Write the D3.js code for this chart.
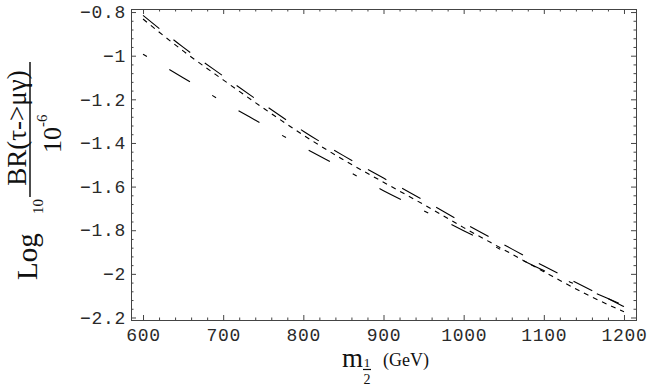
<!DOCTYPE html>
<html>
<head lang="en">
	<meta charset="UTF-8">
	<title></title>
	<script src="https://d3js.org/d3.v7.min.js"></script>
	<style>
		body { margin: 0; background: #fff; }
		.ticklbl text { font-family: "Liberation Mono", "DejaVu Sans Mono", monospace; font-size: 18px; letter-spacing: 0.7px; }
		.serif { font-family: "Liberation Serif", "DejaVu Serif", serif; fill: #111; }
	</style>
</head>
<body>

<script>

	// m_1/2 in GeV
	var masses = [600, 650, 700, 750, 800, 850, 900, 950, 1000, 1050, 1100, 1150, 1200];

	// log10( BR(tau->mu gamma) / 1e-6 )
	var brDashed =   [-0.815, -0.961, -1.093, -1.222, -1.346, -1.458, -1.561, -1.662, -1.767, -1.866, -1.964, -2.058, -2.150];
	var brDotted =   [-0.832, -0.978, -1.111, -1.240, -1.364, -1.477, -1.580, -1.682, -1.788, -1.889, -1.990, -2.088, -2.174];
	var brLongDash = [-0.993, -1.101, -1.212, -1.316, -1.420, -1.518, -1.619, -1.710, -1.802, -1.895, -1.985, -2.065, -2.145];

	var xTicks = [600, 700, 800, 900, 1000, 1100, 1200];
	var xTickLabels = ["600", "700", "800", "900", "1000", "1100", "1200"];
	var yTicks = [-0.8, -1, -1.2, -1.4, -1.6, -1.8, -2, -2.2];
	var yTickLabels = ["\u22120.8", "\u22121", "\u22121.2", "\u22121.4", "\u22121.6", "\u22121.8", "\u22122", "\u22122.2"];

	var W = 654, H = 390;
	var frameL = 131, frameR = 636, frameT = 9, frameB = 320;

	var svg = d3.select('body').append("svg:svg").attr("width", W).attr("height", H);

	var x = d3.scaleLinear().domain([585, 1215]).range([frameL, frameR]);
	var y = d3.scaleLinear().domain([-0.786, -2.2115]).range([frameT, frameB]);

	var xMinor = d3.range(620, 1200, 20).filter(function (d) { return d % 100 != 0; });
	var yMinor = d3.range(-0.84, -2.19, -0.04).filter(function (d) {
		return Math.abs(Math.round(d * 5) - d * 5) > 0.01;
	});

	function ticks(axis, tr) {
		var g = svg.append("g").attr("transform", tr).call(axis);
		g.select(".domain").remove();
		g.selectAll("line").attr("stroke", "#444");
		return g;
	}

	// major ticks with labels (inside)
	ticks(d3.axisBottom(x).tickValues(xTicks).tickSize(-5).tickPadding(8)
		.tickFormat(function (d, i) { return xTickLabels[i]; }), "translate(0," + frameB + ")")
		.attr("class", "ticklbl");
	ticks(d3.axisLeft(y).tickValues(yTicks).tickSize(-5).tickPadding(5)
		.tickFormat(function (d, i) { return yTickLabels[i]; }), "translate(" + frameL + ",0)")
		.attr("class", "ticklbl");
	ticks(d3.axisTop(x).tickValues(xTicks).tickSize(-5).tickFormat(""), "translate(0," + frameT + ")");
	ticks(d3.axisRight(y).tickValues(yTicks).tickSize(-5).tickFormat(""), "translate(" + frameR + ",0)");

	// minor ticks
	ticks(d3.axisBottom(x).tickValues(xMinor).tickSize(-2.5).tickFormat(""), "translate(0," + frameB + ")");
	ticks(d3.axisTop(x).tickValues(xMinor).tickSize(-2.5).tickFormat(""), "translate(0," + frameT + ")");
	ticks(d3.axisLeft(y).tickValues(yMinor).tickSize(-2.5).tickFormat(""), "translate(" + frameL + ",0)");
	ticks(d3.axisRight(y).tickValues(yMinor).tickSize(-2.5).tickFormat(""), "translate(" + frameR + ",0)");

	svg.selectAll(".ticklbl text").attr("fill", "#2a2a2a");

	// frame
	svg.append("rect")
			.attr("x", frameL + 0.5).attr("y", frameT + 0.5)
			.attr("width", frameR - frameL).attr("height", frameB - frameT)
			.style("fill", "none").style("stroke", "#444").style("stroke-width", 1);

	var line = d3.line()
			.x(function (d) { return x(d[0]); })
			.y(function (d) { return y(d[1]); })
			.curve(d3.curveMonotoneX);

	function curve(values, dash) {
		var pts = masses.map(function (m, i) { return [m, values[i]]; });
		return svg.append("path")
				.attr("d", line(pts))
				.style("fill", "none")
				.style("stroke", "#000")
				.style("stroke-width", 1.1)
				.style("stroke-dasharray", dash);
	}

	curve(brDashed, "21,18");
	curve(brDotted, "5,5");
	curve(brLongDash, "4.5,26,24,26");

	// y axis label: Log_10 ( BR(tau->mu gamma) / 10^-6 ), rotated
	var yl = svg.append("g").attr("transform", "rotate(-90)").attr("class", "serif");
	yl.append("text").attr("x", -280).attr("y", 37).style("font-size", "29px").text("Log");
	yl.append("text").attr("x", -214).attr("y", 43).style("font-size", "15px").text("10");
	yl.append("line").attr("x1", -197).attr("x2", -62).attr("y1", 30).attr("y2", 30)
			.style("stroke", "#111").style("stroke-width", 1.5);
	yl.append("text").attr("x", -128).attr("y", 26).attr("text-anchor", "middle")
			.style("font-size", "27px").text("BR(\u03c4->\u03bc\u03b3)");
	yl.append("text").attr("x", -153).attr("y", 61).style("font-size", "26px").text("10");
	yl.append("text").attr("x", -127).attr("y", 47).style("font-size", "15px").text("-6");

	// x axis label: m_1/2 (GeV)
	var xl = svg.append("g").attr("class", "serif");
	xl.append("text").attr("x", 342).attr("y", 367).style("font-size", "27px").text("m");
	xl.append("text").attr("x", 367).attr("y", 367).attr("text-anchor", "middle").style("font-size", "13px").text("1");
	xl.append("line").attr("x1", 363).attr("x2", 371).attr("y1", 369.5).attr("y2", 369.5)
			.style("stroke", "#111").style("stroke-width", 1.2);
	xl.append("text").attr("x", 367).attr("y", 384).attr("text-anchor", "middle").style("font-size", "14px").text("2");
	xl.append("text").attr("x", 383).attr("y", 366).style("font-size", "18px").text("(GeV)");

</script>

</body>
</html>
